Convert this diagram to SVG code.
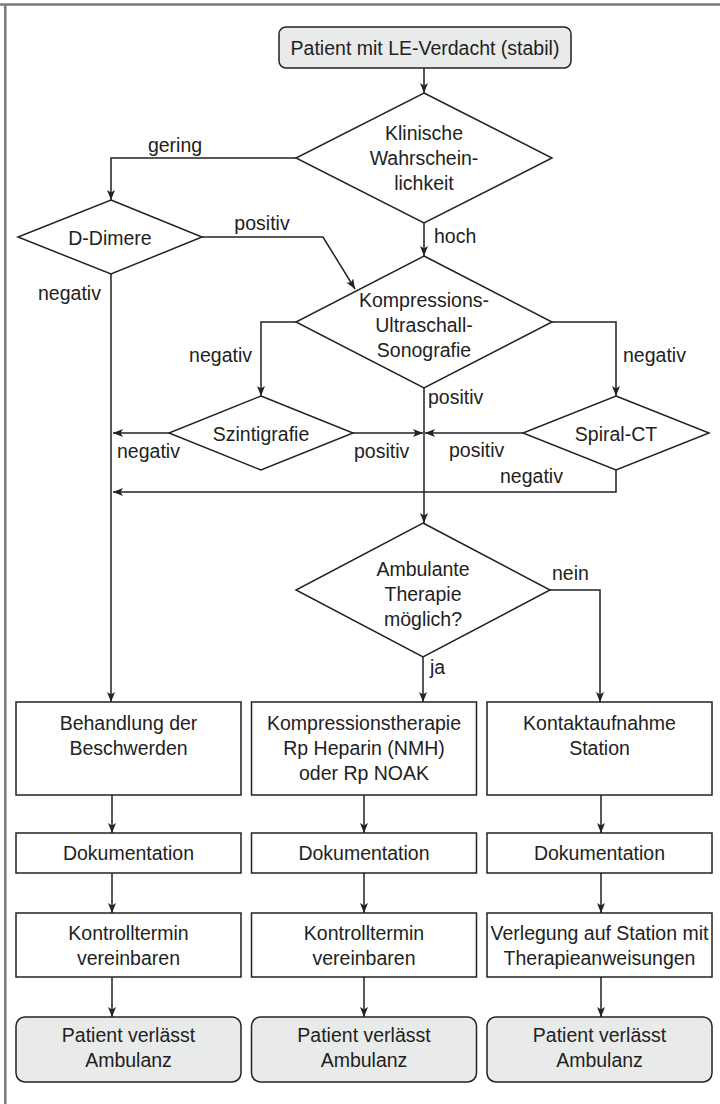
<svg xmlns="http://www.w3.org/2000/svg" width="720" height="1104" viewBox="0 0 720 1104">
<defs>
<style>
text{font-family:"Liberation Sans",Arial,sans-serif;font-size:19.5px;fill:#222}
.c{text-anchor:middle}
.box{fill:#fff;stroke:#222;stroke-width:1.5}
.term{fill:#e9eaea;stroke:#222;stroke-width:1.5}
.dia{fill:#fff;stroke:#222;stroke-width:1.5}
.conn path{fill:none;stroke:#222;stroke-width:1.5;marker-end:url(#arr)}
.frame{fill:none;stroke:#7a7a7a;stroke-width:2.5}
</style>
<marker id="arr" viewBox="0 0 10 8" refX="10" refY="4" markerWidth="10" markerHeight="8" markerUnits="userSpaceOnUse" orient="auto">
<path d="M0,0 L10,4 L0,8 L2.5,4 z" fill="#222"/>
</marker>
</defs>
<rect width="720" height="1104" fill="#fff"/>
<path class="frame" d="M0,4.5 H720 M5.3,4 V1104"/>

<g class="conn" id="connectors">
<path d="M424,68 V93"/>
<path d="M296,158 H111 V200"/>
<path d="M202,237 H323 L355,289"/>
<path d="M424,223 V256"/>
<path d="M296,322 H261 V396"/>
<path d="M552,322 H616 V396"/>
<path d="M169,433 H113"/>
<path d="M353,433 H423"/>
<path d="M523,433 H425"/>
<path d="M616,470 V492 H113"/>
<path d="M424,388 V523"/>
<path d="M111,274 V702"/>
<path d="M423,657 V702"/>
<path d="M550,590 H600 V702"/>
<path d="M112,795 V833"/>
<path d="M364,795 V833"/>
<path d="M601,795 V833"/>
<path d="M112,873 V913"/>
<path d="M364,873 V913"/>
<path d="M601,873 V913"/>
<path d="M112,977 V1017"/>
<path d="M364,977 V1017"/>
<path d="M601,977 V1017"/>
<text class="c" x="175" y="152">gering</text>
<text class="c" x="262" y="230">positiv</text>
<text x="434" y="243">hoch</text>
<text x="38" y="300">negativ</text>
<text x="252" y="362" text-anchor="end">negativ</text>
<text x="623" y="362">negativ</text>
<text x="428" y="404">positiv</text>
<text x="117" y="458">negativ</text>
<text x="354" y="458">positiv</text>
<text x="449" y="457">positiv</text>
<text x="500" y="483">negativ</text>
<text x="552" y="580">nein</text>
<text x="430" y="674">ja</text>
</g>

<g id="start">
<rect class="term" x="279" y="27" width="292" height="41" rx="7"/>
<text class="c" x="425" y="55">Patient mit LE-Verdacht (stabil)</text>
</g>
<g id="klinisch">
<polygon class="dia" points="424,93 552,158 424,223 296,158"/>
<text class="c" x="424" y="140">Klinische</text>
<text class="c" x="424" y="165">Wahrschein-</text>
<text class="c" x="424" y="190">lichkeit</text>
</g>
<g id="ddimere">
<polygon class="dia" points="111,200 202,237 111,274 18,237"/>
<text class="c" x="110" y="245">D-Dimere</text>
</g>
<g id="kus">
<polygon class="dia" points="424,256 552,322 424,388 296,322"/>
<text class="c" x="424" y="307">Kompressions-</text>
<text class="c" x="424" y="332">Ultraschall-</text>
<text class="c" x="424" y="357">Sonografie</text>
</g>
<g id="szinti">
<polygon class="dia" points="261,396 353,433 261,470 169,433"/>
<text class="c" x="261" y="441">Szintigrafie</text>
</g>
<g id="spiralct">
<polygon class="dia" points="616,396 709,433 616,470 523,433"/>
<text class="c" x="616" y="441">Spiral-CT</text>
</g>
<g id="ambulant">
<polygon class="dia" points="423,523 550,590 423,657 296,590"/>
<text class="c" x="423" y="576">Ambulante</text>
<text class="c" x="423" y="601">Therapie</text>
<text class="c" x="423" y="626">möglich?</text>
</g>

<g id="behandlung">
<rect class="box" x="16" y="702" width="225" height="93"/>
<text class="c" x="128.5" y="730">Behandlung der</text>
<text class="c" x="128.5" y="755">Beschwerden</text>
</g>
<g id="therapie">
<rect class="box" x="251.5" y="702" width="225" height="93"/>
<text class="c" x="364" y="730">Kompressionstherapie</text>
<text class="c" x="364" y="755">Rp Heparin (NMH)</text>
<text class="c" x="364" y="780">oder Rp NOAK</text>
</g>
<g id="kontakt">
<rect class="box" x="487" y="702" width="225" height="93"/>
<text class="c" x="599.5" y="730">Kontaktaufnahme</text>
<text class="c" x="599.5" y="755">Station</text>
</g>

<g id="doku1">
<rect class="box" x="16" y="833" width="225" height="40"/>
<text class="c" x="128.5" y="860">Dokumentation</text>
</g>
<g id="doku2">
<rect class="box" x="251.5" y="833" width="225" height="40"/>
<text class="c" x="364" y="860">Dokumentation</text>
</g>
<g id="doku3">
<rect class="box" x="487" y="833" width="225" height="40"/>
<text class="c" x="599.5" y="860">Dokumentation</text>
</g>

<g id="kontroll1">
<rect class="box" x="16" y="913" width="225" height="64"/>
<text class="c" x="128.5" y="940">Kontrolltermin</text>
<text class="c" x="128.5" y="965">vereinbaren</text>
</g>
<g id="kontroll2">
<rect class="box" x="251.5" y="913" width="225" height="64"/>
<text class="c" x="364" y="940">Kontrolltermin</text>
<text class="c" x="364" y="965">vereinbaren</text>
</g>
<g id="verlegung">
<rect class="box" x="487" y="913" width="225" height="64"/>
<text class="c" x="599.5" y="940">Verlegung auf Station mit</text>
<text class="c" x="599.5" y="965">Therapieanweisungen</text>
</g>

<g id="ende1">
<rect class="term" x="16" y="1017" width="225" height="65" rx="9"/>
<text class="c" x="128.5" y="1042">Patient verlässt</text>
<text class="c" x="128.5" y="1067">Ambulanz</text>
</g>
<g id="ende2">
<rect class="term" x="251.5" y="1017" width="225" height="65" rx="9"/>
<text class="c" x="364" y="1042">Patient verlässt</text>
<text class="c" x="364" y="1067">Ambulanz</text>
</g>
<g id="ende3">
<rect class="term" x="487" y="1017" width="225" height="65" rx="9"/>
<text class="c" x="599.5" y="1042">Patient verlässt</text>
<text class="c" x="599.5" y="1067">Ambulanz</text>
</g>
</svg>
